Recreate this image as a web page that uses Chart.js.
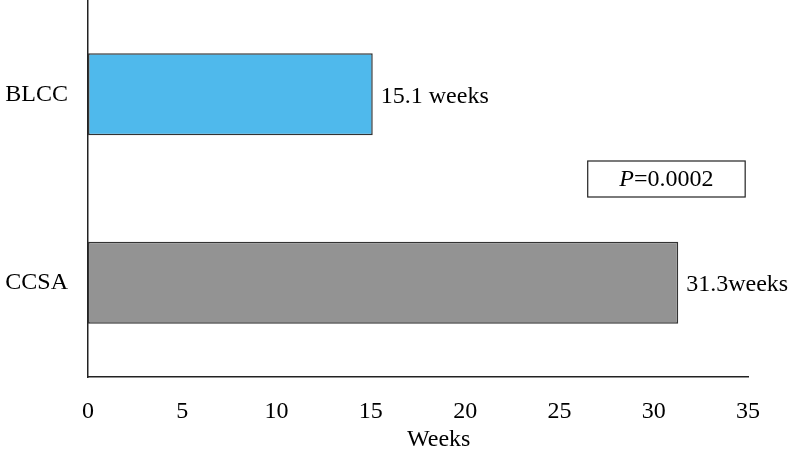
<!DOCTYPE html>
<html>
<head>
<meta charset="utf-8">
<script src="https://cdn.jsdelivr.net/npm/chart.js@4"></script>
<style>
  html, body { margin: 0; padding: 0; background: #fff; }
  #wrap { width: 792px; height: 450px; }
</style>
</head>
<body>
<div id="wrap"><canvas id="weeks"></canvas></div>
<script>
const groups = ['BLCC', 'CCSA'];
const weekValues = [15.1, 31.3];
const valueLabels = ['15.1 weeks', '31.3weeks'];
const barColors = ['#4fb9ec', '#939393'];
const pValueText = '=0.0002';
const axisTitle = 'Weeks';

const serif = '"Liberation Serif", "Times New Roman", serif';

// text after each bar end
const barLabels = {
  id: 'barLabels',
  afterDatasetsDraw(chart) {
    const ctx = chart.ctx;
    const meta = chart.getDatasetMeta(0);
    ctx.save();
    ctx.font = '24px ' + serif;
    ctx.fillStyle = '#000';
    ctx.textBaseline = 'middle';
    meta.data.forEach((bar, i) => {
      ctx.fillText(valueLabels[i], bar.x + 8, bar.y + 2);
    });
    ctx.restore();
  }
};

// P value box + x axis title (sits a bit right of centre in the original)
const extras = {
  id: 'extras',
  afterDraw(chart) {
    const ctx = chart.ctx;
    const x = chart.scales.x;
    const left = x.getPixelForValue(26.5);
    const right = x.getPixelForValue(34.85);
    const top = 161, bottom = 197;
    ctx.save();
    ctx.strokeStyle = '#222';
    ctx.lineWidth = 1.2;
    ctx.strokeRect(left, top, right - left, bottom - top);
    ctx.fillStyle = '#000';
    ctx.textBaseline = 'middle';
    ctx.font = 'italic 24px ' + serif;
    const pW = ctx.measureText('P').width;
    ctx.font = '24px ' + serif;
    const restW = ctx.measureText(pValueText).width;
    let tx = (left + right) / 2 - (pW + restW) / 2;
    ctx.font = 'italic 24px ' + serif;
    ctx.fillText('P', tx, (top + bottom) / 2 + 1);
    ctx.font = '24px ' + serif;
    ctx.fillText(pValueText, tx + pW, (top + bottom) / 2 + 1);

    ctx.textAlign = 'center';
    ctx.font = '24px ' + serif;
    ctx.fillText(axisTitle, x.getPixelForValue(18.6), x.bottom - 10);
    ctx.restore();
  }
};

new Chart(document.querySelector('#weeks'), {
  type: 'bar',
  data: {
    labels: groups,
    datasets: [{
      data: weekValues,
      backgroundColor: barColors,
      borderColor: '#333',
      borderWidth: 1.5,
      borderSkipped: false,
      barPercentage: 0.435,
      categoryPercentage: 1
    }]
  },
  options: {
    indexAxis: 'y',
    responsive: true,
    maintainAspectRatio: false,
    animation: false,
    layout: { padding: { top: 0, right: 44, left: 0, bottom: 0 } },
    plugins: {
      legend: { display: false },
      tooltip: { enabled: false }
    },
    scales: {
      x: {
        min: 0,
        max: 35,
        ticks: {
          stepSize: 5,
          padding: 20,
          color: '#000',
          font: { family: serif, size: 24 }
        },
        grid: { display: false, drawTicks: false },
        border: { display: true, color: '#222', width: 1.5 },
        afterFit(scale) { scale.height = 73; }
      },
      y: {
        ticks: {
          padding: 20,
          color: '#000',
          font: { family: serif, size: 24 }
        },
        grid: { display: false, drawTicks: false },
        border: { display: true, color: '#222', width: 1.5 },
        afterFit(scale) {
          scale.width = 88;
          scale.paddingTop = 0;
          scale.paddingBottom = 0;
        }
      }
    }
  },
  plugins: [barLabels, extras]
});
</script>
</body>
</html>
